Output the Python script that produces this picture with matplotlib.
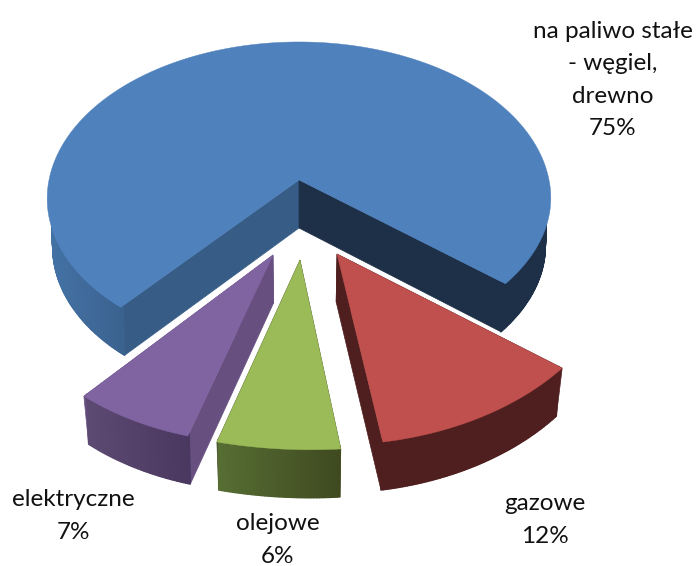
import numpy as np
import matplotlib
matplotlib.use("Agg")
import matplotlib.pyplot as plt
from matplotlib.collections import PolyCollection
from matplotlib.colors import to_rgb

categories = ["na paliwo stałe\n- węgiel,\ndrewno", "gazowe", "olejowe", "elektryczne"]
shares = [75, 12, 6, 7]

top_colors = ["#4f81bd", "#c0504d", "#9bbb59", "#8064a2"]
cut_colors = ["#1d3048", "#4f1f1f", "#3f4a20", "#674f80"]
rim_colors = [("#1d3048", "#4472a5"), ("#4f1f1f", "#4f1f1f"),
              ("#3f4a20", "#566d33"), ("#4a3860", "#5d4a72")]

START_ANGLE = 130.4 + 90  # clockwise from 12 o'clock
CX, CY = 299, 180
DEPTH = 48
SHRINK = 0.978

# tip offset from pie centre and 2x2 view matrix of each pulled-out slice
slice_views = [None,
               ((38, 74), (283.5, 14.3, -12.4, 190.6)),
               ((1, 80), (331.3, 3.9, 4.0, 189.7)),
               ((-26, 75), (276.4, -13.1, 3.9, 188.7))]
label_pos = [(613, 80), (545, 520), (278, 540), (73, 516)]


def unit(a):
    a = np.radians(a)
    return np.sin(a), -np.cos(a)


def project_main(a):
    # perspective: the back of the pie shrinks, the front grows
    u, v = unit(a)
    p = 1 / (1 - 0.12 * v)
    ry = np.where(v > 0, 150, 154.6)
    return CX + 250 * u * p, CY + ry * v * p - 3 * u * np.clip(v, 0, None) * p


def project(a, view):
    if view is None:
        return project_main(a)
    (dx, dy), (xx, xy, yx, yy) = view
    u, v = unit(a)
    return CX + dx + xx * u + xy * v, CY + dy + yx * u + yy * v


def lower(x, y):
    return CX + SHRINK * (np.asarray(x) - CX), np.asarray(y) + DEPTH


def wall_quad(x, y):
    bx, by = lower(x, y)
    return np.column_stack([np.r_[x, bx[::-1]], np.r_[y, by[::-1]]])


fig = plt.figure(figsize=(6.97, 5.66), dpi=100)
ax = fig.add_axes([0, 0, 1, 1])
ax.set_xlim(0, 697)
ax.set_ylim(566, 0)
ax.axis("off")

angle = START_ANGLE
for i, share in enumerate(shares):
    sweep = share / 100 * 360
    a = np.linspace(angle, angle + sweep, max(int(sweep * 2), 40))
    view = slice_views[i]
    x, y = project(a, view)
    tip = (CX, CY) if view is None else (CX + view[0][0], CY + view[0][1])

    # straight cut walls
    for xe, ye in ((x[0], y[0]), (x[-1], y[-1])):
        quad = wall_quad(np.array([tip[0], xe]), np.array([tip[1], ye]))
        color = cut_colors[i]
        if i == 0 and xe < CX:
            color = "#375d87"
        ax.fill(quad[:, 0], quad[:, 1], color=color, lw=0.5)

    # rim, shaded along its length, front part only
    # upper edge pulled in a little so it stays hidden under the top face
    c0, c1 = (np.array(to_rgb(c)) for c in rim_colors[i])
    xs, ys = lower(x, y)
    xt = tip[0] + 0.985 * (x - tip[0])
    yt = tip[1] + 0.985 * (y - tip[1])
    polys = []
    cols = []
    for k in range(len(x) - 1):
        if unit(a[k])[1] < 0.02:
            continue
        if i == 0:
            t = 0 if x[k] > CX else 0.75 + 0.25 * np.clip((125 - x[k]) / 80, 0, 1)
        else:
            t = k / (len(x) - 2)
        polys.append([(xt[k], yt[k]), (xt[k + 1], yt[k + 1]), (xs[k + 1], ys[k + 1]), (xs[k], ys[k])])
        cols.append(c0 + (c1 - c0) * t)
    ax.add_collection(PolyCollection(polys, facecolors=cols, edgecolors=cols, linewidths=1.0))

    # top face
    ax.fill(np.r_[tip[0], x], np.r_[tip[1], y], color=top_colors[i], lw=0.3)

    lx, ly = label_pos[i]
    ax.text(lx, ly, f"{categories[i]}\n{share}%", ha="center", va="center",
            family="Lato", fontsize=17.5, linespacing=1.67, color="#111111")
    angle += sweep

fig.savefig("out.png", dpi=100)
